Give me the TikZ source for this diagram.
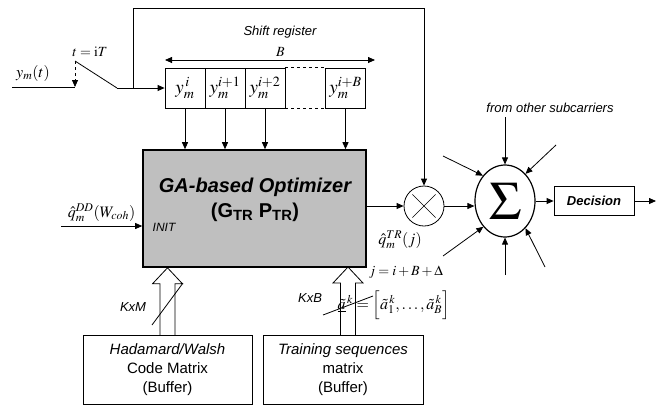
\documentclass[tikz,border=0pt]{standalone}
\usepackage{mathptmx}
\usepackage{fontspec}
\setsansfont{Liberation Sans}
\usetikzlibrary{arrows.meta,shapes.geometric}

% hollow arrow pointing up, #1 = tip
\newcommand{\fatarrow}[1]{\draw (#1) -- ++(15,16) -- ++(-7.5,0) -- ++(0,52) ++(-15,0) -- ++(0,-52) -- ++(-7.5,0) -- (#1);}

\begin{document}
\begin{tikzpicture}[x=1pt,y=-1pt,line width=.8pt,>={Triangle[length=7pt,width=6pt]},
  cell/.style={draw,minimum width=40pt,minimum height=40pt,inner sep=0pt,font=\fontsize{19}{19}\selectfont},
  buffer/.style={draw,minimum width=169pt,minimum height=69pt,align=center,font=\sffamily\fontsize{15}{19}\selectfont},
  lbl/.style={font=\sffamily\itshape\fontsize{13}{15}\selectfont},
  eq/.style={font=\fontsize{16}{18}\selectfont}]
\useasboundingbox (0,0) rectangle (656,405);

% shift register
\node[cell] (c1) at (185,88) {$y_m^{\,i}$};
\node[cell] (c2) at (225,88) {$y_m^{i+1}$};
\node[cell] (c3) at (265,88) {$y_m^{i+2}$};
\node[cell] (cB) at (345.5,88) {$y_m^{i+B}$};
\draw[dashed] (c3.north east) -- (cB.north west);
\draw[dashed] (c3.south east) -- (cB.south west);
\coordinate (bL) at (165,60);
\coordinate (bR) at (375,60);
\draw[<->] (bL) -- (bR) node[pos=.55,above,font=\fontsize{14}{16}\selectfont] {$B$};
\node[lbl] (shreg) at (280,32) {Shift register};

% sampling switch
\coordinate (yin) at (12,87);
\coordinate (sw) at (75,87);
\coordinate (blade) at (75,61);
\coordinate (pivot) at (117,88);
\coordinate (tap) at (133,88);
\coordinate (fb) at (424,8);
\draw (yin) -- (sw);
\draw[dashed,->] (blade) -- (sw);
\draw (blade) -- (pivot);
\draw[->] (pivot) -- (c1);
\node[eq] (ylab) at (33,73) {$y_m(t)$};
\node[font=\fontsize{14}{16}\selectfont] (tlab) at (90,52) {$t=\mathrm{i}T$};

% optimizer
\node[draw,fill=gray!50,line width=1.6pt,minimum width=223pt,minimum height=117pt] (ga) at (254.5,208.5) {};
\node[font=\sffamily\bfseries\fontsize{20}{25}\selectfont,align=center] (gatxt) at (255,200)
  {\itshape GA-based Optimizer\\\upshape (G\textsubscript{TR} P\textsubscript{TR})};
\node[font=\sffamily\itshape\fontsize{12}{14}\selectfont,anchor=west] (init) at (149,227) {INIT};
\foreach \c in {c1,c2,c3,cB}
  \draw[->] (\c) -- (\c |- ga.north);
\coordinate (qin) at (61,226);
\draw[->] (qin) -- (qin -| ga.west) node[midway,above=1pt,eq] {$\hat q_m^{DD}(W_{coh})$};

% combining
\node[circle,draw,minimum size=40pt,inner sep=0pt] (mul) at (424,206) {};
\draw[line width=.6pt,shorten >=4pt,shorten <=4pt] (mul.north west) -- (mul.south east);
\draw[line width=.6pt,shorten >=4pt,shorten <=4pt] (mul.north east) -- (mul.south west);
\draw[->] (mul -| ga.east) -- (mul);
\draw[->] (tap) |- (fb) -- (mul);
\node[eq] (qtr) at (400,240) {$\hat q_m^{TR}(j)$};
\node[font=\fontsize{14}{16}\selectfont] (jeq) at (406,272) {$j=i+B+\Delta$};

\node[ellipse,draw,minimum width=60pt,minimum height=72pt,inner sep=0pt,line width=1.2pt,font=\fontsize{54}{54}\selectfont] (sum) at (505,201) {$\Sigma$};
\draw[->] (mul) -- (mul -| sum.west);
\coordinate (o1) at (505,117);
\coordinate (o2) at (443,156);
\coordinate (o3) at (556,145);
\coordinate (o4) at (443,256);
\coordinate (o5) at (505,275);
\coordinate (o6) at (545,267);
\draw[->] (o1) -- (sum.north);
\draw[->] (o2) -- (sum.131);
\draw[->] (o3) -- (sum.53);
\draw[->] (o4) -- (sum.230);
\draw[->] (o5) -- (sum.south);
\draw[->] (o6) -- (sum.307);
\node[lbl] (other) at (550,108) {from other subcarriers};
\node[draw,minimum width=80pt,minimum height=29pt,font=\sffamily\bfseries\itshape\fontsize{13}{15}\selectfont] (dec) at (594,201) {Decision};
\coordinate (out) at (656,201);
\draw[->] (sum) -- (dec);
\draw[->] (dec) -- (out);

% buffers
\node[buffer] (had) at (167.5,369.5) {{\itshape Hadamard/Walsh}\\Code Matrix\\(Buffer)};
\node[buffer,minimum width=160pt] (train) at (343,369.5) {{\itshape Training sequences}\\matrix\\(Buffer)};
\coordinate (hadtip) at (had |- ga.south);
\coordinate (trtip) at (348,267);
\fatarrow{hadtip}
\fatarrow{trtip}
\draw (152,325) -- (183,283);
\node[lbl] (kxm) at (133,307) {KxM};
\draw (323,315) -- (373,296);
\node[lbl] (kxb) at (310,298) {KxB};
\node[eq,anchor=west] (aeq) at (334,305) {$\underline{\tilde a}^{\,k}=\Bigl[\tilde a_1^{\,k},\dots,\tilde a_B^{\,k}\Bigr]$};
\end{tikzpicture}
\end{document}
